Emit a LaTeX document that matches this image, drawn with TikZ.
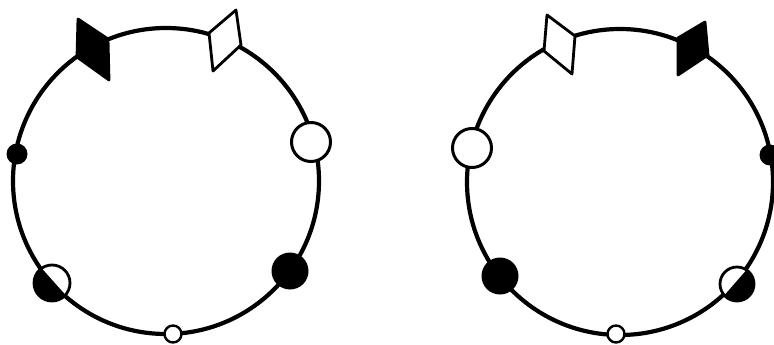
\documentclass[tikz,border=0pt]{standalone}
\begin{document}
\begin{tikzpicture}[x=1pt,y=-1pt,
  ring/.style={line width=4.2pt},
  opencirc/.style={circle,draw,fill=white,line width=3pt,inner sep=0pt},
  blackdot/.style={circle,fill=black,inner sep=0pt},
  blackcirc/.style={circle,fill=black,inner sep=0pt},
  smallopen/.style={circle,draw,fill=white,line width=2.4pt,inner sep=0pt,minimum size=17pt},
  flagblack/.style={fill=black,draw=black,line width=2.8pt,line join=round},
  flagwhite/.style={fill=white,draw=black,line width=2.8pt,line join=round}]
\useasboundingbox (0,0) rectangle (774,345);
% ---------- left ring ----------
\coordinate (LC) at (166,181);
\draw[ring] (LC) circle[radius=153];
\draw[flagblack] (78,19) -- (108,39) -- (109,80) -- (77,57) -- cycle;
\draw[flagwhite] (209,33) -- (236,10) -- (241,45) -- (213,71) -- cycle;
\node[blackdot,minimum size=21pt] (Ldot) at (17,154) {};
\node[opencirc,minimum size=39pt] (Lopen) at (311,142) {};
\node[blackcirc,minimum size=37pt] (Lblack) at (290,271) {};
\node[smallopen] (Lsmall) at (173,334) {};
% half-filled circle, left
\coordinate (LH) at (52,283);
\fill[white] (LH) circle[radius=18];
\fill[black] (LH) ++(48.2:18) arc[start angle=48.2,end angle=228.2,radius=18] -- cycle;
\draw[line width=2.8pt] (LH) circle[radius=18];
\draw[ring] (LH) ++(48.2:18) -- ++(228.2:36);
% ---------- right ring ----------
\coordinate (RC) at (620,182);
\draw[ring] (RC) circle[radius=153];
\draw[flagwhite] (547,15) -- (575,36) -- (572,74) -- (544,51) -- cycle;
\draw[flagblack] (678,38) -- (705,22) -- (708,55) -- (678,75) -- cycle;
\node[blackdot,minimum size=21pt] (Rdot) at (770,155) {};
\node[opencirc,minimum size=39pt] (Ropen) at (472,148) {};
\node[blackcirc,minimum size=37pt] (Rblack) at (500,276) {};
\node[smallopen] (Rsmall) at (616,334) {};
% half-filled circle, right
\coordinate (RH) at (737,284);
\fill[white] (RH) circle[radius=17];
\fill[black] (RH) ++(-48.9:17) arc[start angle=-48.9,end angle=131.1,radius=17] -- cycle;
\draw[line width=2.8pt] (RH) circle[radius=17];
\draw[ring] (RH) ++(-48.9:17) -- ++(131.1:34);
\end{tikzpicture}
\end{document}
